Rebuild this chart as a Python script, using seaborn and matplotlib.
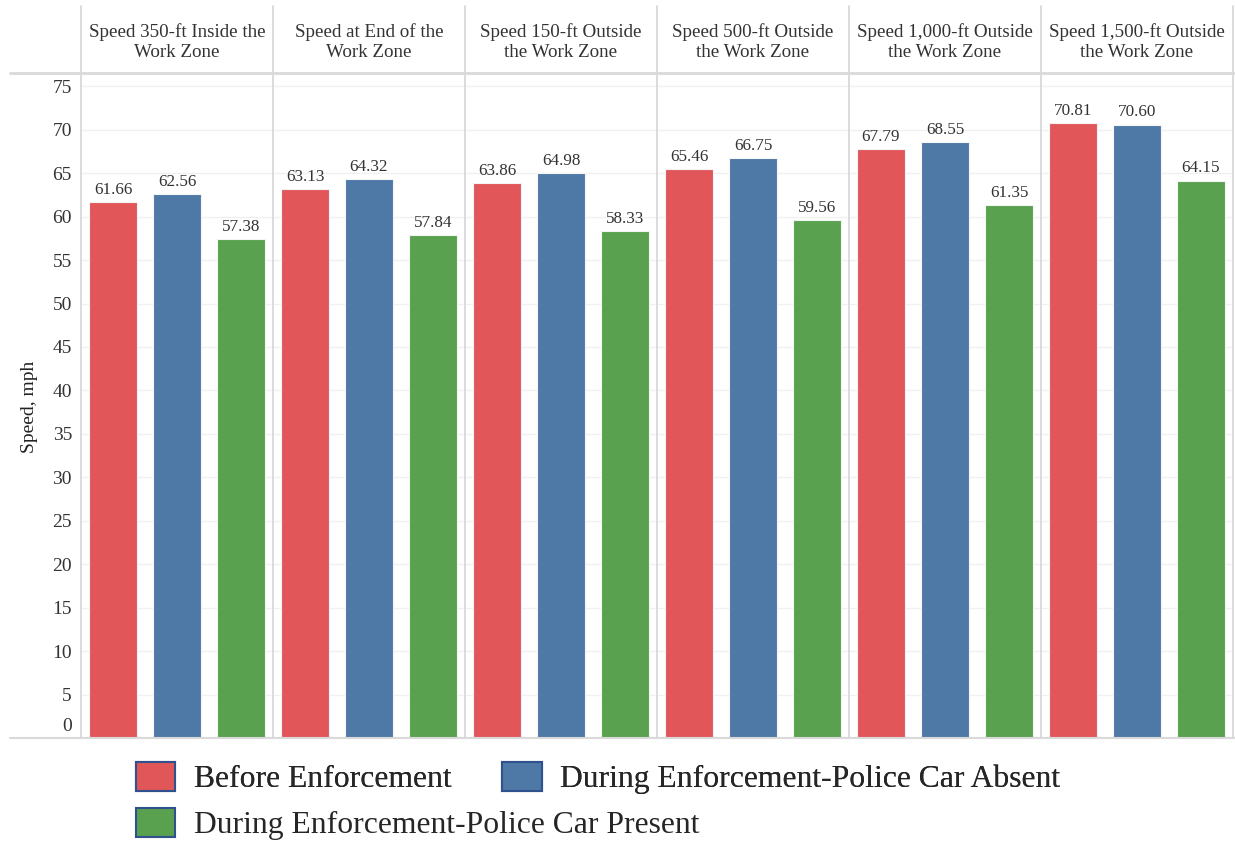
import pandas as pd
import matplotlib.pyplot as plt
import matplotlib.transforms as mtransforms
import seaborn as sns
from matplotlib.lines import Line2D
from matplotlib.patches import Patch

# data
locations = ['Speed 350-ft Inside the\nWork Zone',
             'Speed at End of the\nWork Zone',
             'Speed 150-ft Outside\nthe Work Zone',
             'Speed 500-ft Outside\nthe Work Zone',
             'Speed 1,000-ft Outside\nthe Work Zone',
             'Speed 1,500-ft Outside\nthe Work Zone']
conditions = ['Before Enforcement',
              'During Enforcement-Police Car Absent',
              'During Enforcement-Police Car Present']
before = [61.66, 63.13, 63.86, 65.46, 67.79, 70.81]
absent = [62.56, 64.32, 64.98, 66.75, 68.55, 70.60]
present = [57.38, 57.84, 58.33, 59.56, 61.35, 64.15]
colors = ['#E15759', '#4E79A7', '#59A14F']

rows = []
for cond, vals in zip(conditions, [before, absent, present]):
    for loc, v in zip(locations, vals):
        rows.append({'location': loc, 'condition': cond, 'speed': v})
df = pd.DataFrame(rows)

sns.set_style('white')
plt.rcParams['font.family'] = ['Liberation Serif', 'DejaVu Serif']

W, H = 1235, 841
fig = plt.figure(figsize=(W / 100, H / 100), dpi=100)
ax_left, ax_right, ax_top, ax_bot = 81, 1233, 75, 738
ax = fig.add_axes([ax_left / W, 1 - ax_bot / H, (ax_right - ax_left) / W, (ax_bot - ax_top) / H])

sns.barplot(data=df, x='location', y='speed', hue='condition', order=locations,
            hue_order=conditions, palette=colors, saturation=1, width=1.0, gap=0.25,
            edgecolor='#f4f4f4', linewidth=0.8, ax=ax, legend=False)

for cont in ax.containers:
    ax.bar_label(cont, fmt='%.2f', padding=3, fontsize=12.3, color='#333333')

ax.set_xlim(-0.5, 5.5)
ax.set_ylim(0, 76.3)
ax.set_yticks(range(0, 80, 5))
ax.tick_params(axis='y', length=0, labelsize=14, pad=6.5, labelcolor='#333333')
# tableau lifts the zero label above the axis line
zero = ax.get_yticklabels()[0]
zero.set_va('bottom')
zero.set_transform(zero.get_transform() + mtransforms.ScaledTranslation(0, 2.5 / 72, fig.dpi_scale_trans))
ax.set_xticks([])
ax.set_xlabel('')
ax.set_ylabel('Speed, mph', fontsize=14, labelpad=10, color='#222222')
ax.yaxis.grid(True, color='#f0f0f0', linewidth=1)
ax.set_axisbelow(True)
for s in ax.spines.values():
    s.set_visible(False)

# panel separators and headers
ext = 1 + (ax_top - 6) / (ax_bot - ax_top)
for xv in [i - 0.5 for i in range(7)]:
    ax.axvline(xv, ymin=0, ymax=ext, color='#d6d6d6', linewidth=1.2, clip_on=False)
for i, loc in enumerate(locations):
    ax.text(i, 1 + (ax_top - 42) / (ax_bot - ax_top), loc, transform=ax.get_xaxis_transform(),
            ha='center', va='center', fontsize=13.7, color='#333333', linespacing=1.25)

fig.add_artist(Line2D([10 / W, 1], [1 - 73 / H] * 2, color='#d9d9d9', linewidth=2))
fig.add_artist(Line2D([10 / W, 1], [1 - ax_bot / H] * 2, color='#d9d9d9', linewidth=1.5))

handles = [Patch(facecolor=c, edgecolor='#2F528F', linewidth=1.5) for c in colors]
leg_kw = dict(loc='upper left', frameon=False, fontsize=22.8, handlelength=1.25,
              handleheight=1.03, handletextpad=0.58, columnspacing=1.6, borderpad=0)
leg1 = fig.legend(handles[:2], conditions[:2], ncol=2,
                  bbox_to_anchor=(120 / W, 1 - 746 / H), **leg_kw)
fig.add_artist(leg1)
fig.legend(handles[2:], conditions[2:], ncol=1,
           bbox_to_anchor=(120 / W, 1 - 792 / H), **leg_kw)

fig.savefig('out.png', dpi=100)
